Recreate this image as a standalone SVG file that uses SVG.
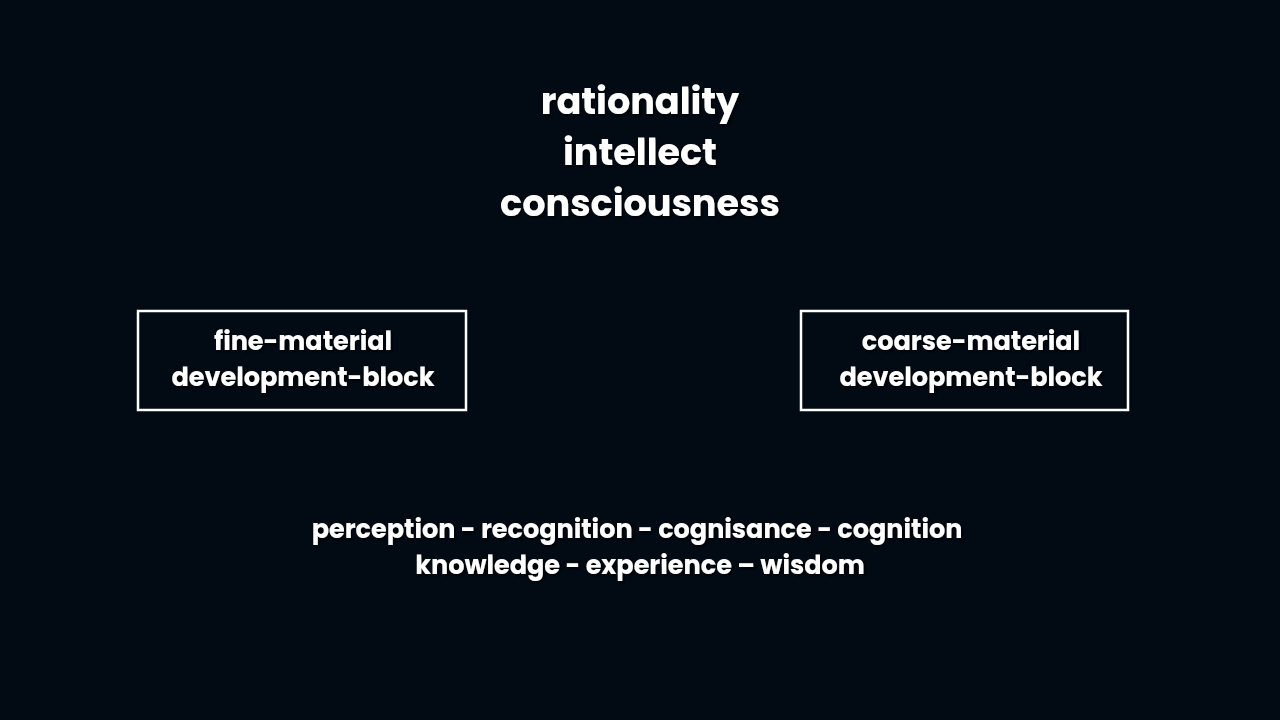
<svg xmlns="http://www.w3.org/2000/svg" width="1280" height="720" viewBox="0 0 1280 720">
<defs>
<filter id="sh" x="-10%" y="-30%" width="120%" height="160%"><feDropShadow dx="2" dy="2" stdDeviation="1.5" flood-color="#000" flood-opacity="0.8"/></filter>
</defs>
<style>
text{font-family:Poppins,Inter,"Open Sans","Liberation Sans",sans-serif;font-weight:700;fill:#fff;text-anchor:middle;filter:url(#sh)}
.big{font-size:36.6px}
.mid{font-size:25.5px}
.box{fill:none;stroke:#fff;stroke-width:2.5}
</style>
<rect width="1280" height="720" fill="#020a14"/>
<g id="title">
<text class="big" x="640" y="114">rationality</text>
<text class="big" x="640" y="165">intellect</text>
<text class="big" x="640" y="216">consciousness</text>
</g>
<g id="fine">
<rect class="box" x="138" y="311" width="328" height="99"/>
<text class="mid" x="303" y="350">fine-material</text>
<text class="mid" x="303" y="386">development-block</text>
</g>
<g id="coarse">
<rect class="box" x="801" y="311" width="327" height="99"/>
<text class="mid" x="971" y="350">coarse-material</text>
<text class="mid" x="971" y="386">development-block</text>
</g>
<g id="bottom">
<text class="mid" x="637" y="538">perception - recognition - cognisance - cognition</text>
<text class="mid" x="640" y="574">knowledge - experience – wisdom</text>
</g>
<g id="connectors"/>
</svg>
